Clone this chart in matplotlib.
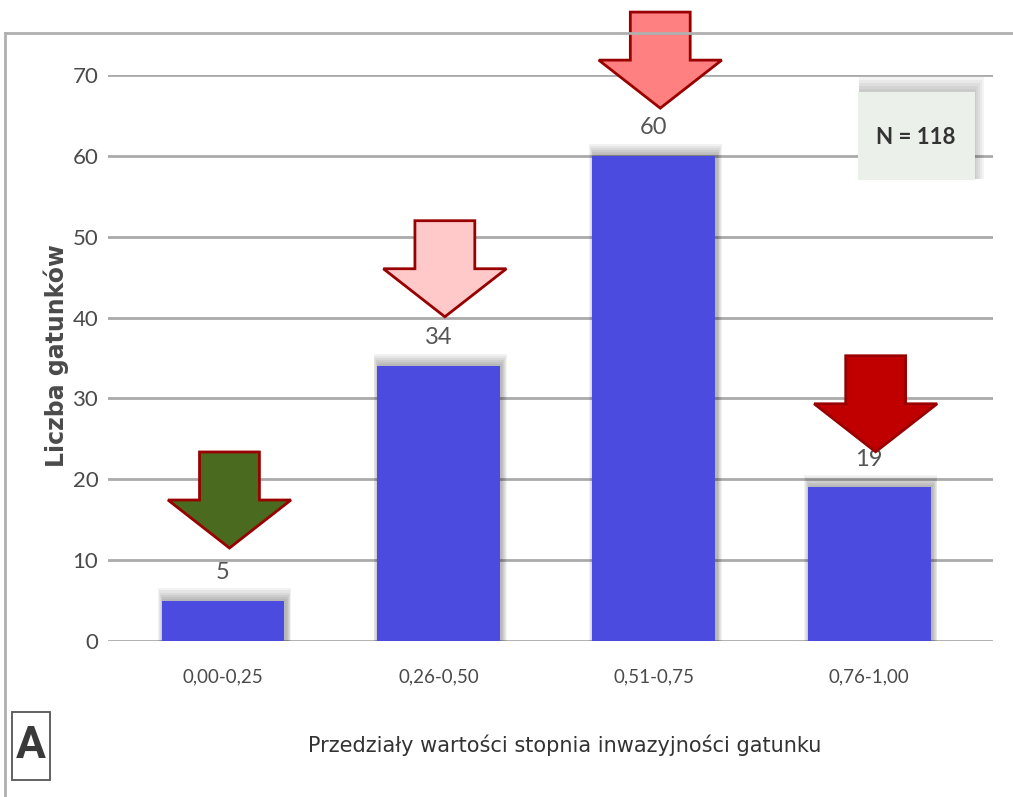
import matplotlib
matplotlib.use('Agg')
import matplotlib.pyplot as plt
from matplotlib.patches import Polygon, Rectangle

# data
categories = ['0,00-0,25', '0,26-0,50', '0,51-0,75', '0,76-1,00']
counts = [5, 34, 60, 19]
arrow_tips = [11.5, 40.1, 65.9, 23.4]
arrow_colors = ['#4a6a1f', '#ffc9c9', '#ff8080', '#c00000']
total_n = 118

bar_color = '#4b4be0'
grid_color = '#aaaaaa'
text_color = '#4a4a4a'

plt.rcParams['font.family'] = ['Lato', 'DejaVu Sans']

fig = plt.figure(figsize=(10.13, 7.97), dpi=100)
ax = fig.add_axes([0.1066, 0.1957, 0.8737, 0.7102])

x = list(range(len(categories)))
bar_w = 0.57

# soft shadow behind bars
for i, v in zip(x, counts):
    for k in range(6):
        pad = 0.004 * (k + 1)
        ax.add_patch(Rectangle((i - bar_w / 2 - pad + 0.008, 0), bar_w + 2 * pad,
                               v + 0.25 * (k + 1), color='#000000',
                               alpha=0.05, lw=0, zorder=2))

ax.bar(x, counts, width=bar_w, color=bar_color, zorder=3)

for i, v in zip(x, counts):
    ax.text(i, v + 2.2, str(v), ha='center', va='bottom', fontsize=17,
            color='#555555', zorder=5)

# arrows pointing down at each bar
head_w = 0.571
shaft_w = 0.278
head_len = 5.94
shaft_len = 5.94
for i, tip, col in zip(x, arrow_tips, arrow_colors):
    cx = i + 0.03
    pts = [(cx, tip),
           (cx - head_w / 2, tip + head_len),
           (cx - shaft_w / 2, tip + head_len),
           (cx - shaft_w / 2, tip + head_len + shaft_len),
           (cx + shaft_w / 2, tip + head_len + shaft_len),
           (cx + shaft_w / 2, tip + head_len),
           (cx + head_w / 2, tip + head_len)]
    ax.add_patch(Polygon(pts, closed=True, facecolor=col, edgecolor='#990000',
                         lw=2, joinstyle='miter', zorder=6, clip_on=False))

ax.set_xlim(-0.534, 3.575)
ax.set_ylim(0, 70)
ax.set_yticks(range(0, 71, 10))
ax.yaxis.grid(True, color=grid_color, lw=2)
ax.set_axisbelow(True)
for s in ax.spines.values():
    s.set_visible(False)
ax.tick_params(axis='y', length=0, pad=7, labelsize=16, labelcolor=text_color)
ax.tick_params(axis='x', length=0, pad=20, labelsize=13.5, labelcolor=text_color)
ax.set_xticks(x)
ax.set_xticklabels(categories)

fig.text(56 / 1013, 1 - 356 / 797, 'Liczba gatunków', rotation=90,
         ha='center', va='center', fontsize=17, fontweight='bold',
         family='DejaVu Sans', color=text_color)

fig.text(565 / 1013, 1 - 745 / 797,
         'Przedziały wartości stopnia inwazyjności gatunku',
         ha='center', va='center', fontsize=15, family='DejaVu Sans',
         color='#333333')

# panel letter
fig.patches.append(Rectangle((12 / 1013, 1 - 780 / 797), 38 / 1013, 68 / 797,
                             transform=fig.transFigure, facecolor='white',
                             edgecolor='#555555', lw=1.3))
fig.text(31 / 1013, 1 - 746 / 797, 'A', ha='center', va='center',
         fontsize=32, fontweight='bold', family=['Roboto', 'DejaVu Sans'],
         color='#3a3a3a')

# N box with shadow
for k in range(5):
    fig.patches.append(Rectangle(((858 + 1) / 1013, 1 - (180 - 1) / 797),
                                 (117 + 2 * k) / 1013, (90 + 3 * k) / 797,
                                 transform=fig.transFigure, color='black',
                                 alpha=0.045, lw=0, zorder=7))
fig.patches.append(Rectangle((858 / 1013, 1 - 180 / 797), 117 / 1013, 88 / 797,
                             transform=fig.transFigure, facecolor='#ebf0eb',
                             lw=0, zorder=8))
fig.text(916 / 1013, 1 - 137 / 797, f'N = {total_n}', ha='center',
         va='center', fontsize=16, fontweight='bold', color='#333333',
         zorder=9)

# outer frame lines
fig.add_artist(plt.Line2D([5 / 1013, 1], [1 - 33 / 797, 1 - 33 / 797],
                          transform=fig.transFigure, color='#b0b0b0', lw=2))
fig.add_artist(plt.Line2D([5 / 1013, 5 / 1013], [0, 1 - 33 / 797],
                          transform=fig.transFigure, color='#b0b0b0', lw=2))

fig.savefig('out.png', dpi=100)
